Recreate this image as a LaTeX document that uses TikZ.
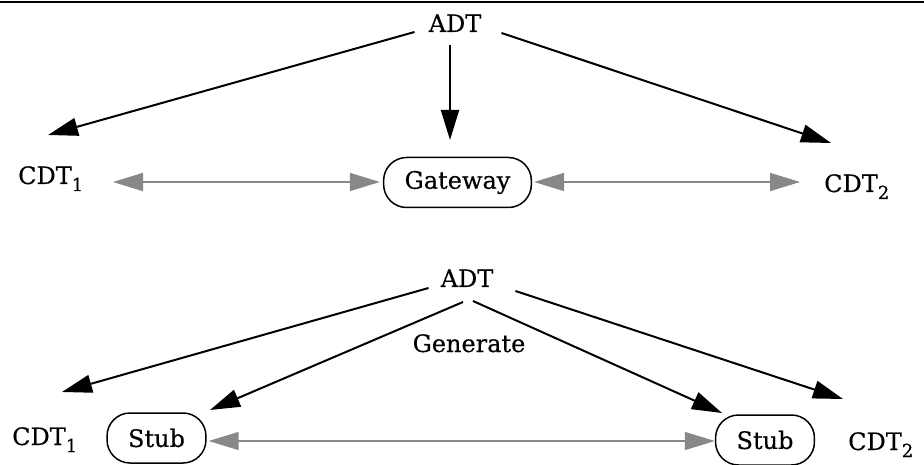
\documentclass[tikz,border=0pt]{standalone}
\usepackage{fontspec}
\setmainfont[FakeBold=0.4]{DejaVu Serif}
\usetikzlibrary{arrows.meta,calc}
\newcommand\subsc[1]{\raisebox{-7pt}{\fontsize{18}{20}\selectfont #1}}
\definecolor{arrgrey}{HTML}{888888}
\tikzset{
  txt/.style={font=\fontsize{24}{28}\selectfont, inner sep=0pt},
  pill/.style={txt, draw, line width=1.5pt, rounded corners=23pt,
    minimum height=50pt, inner xsep=21pt},
  blk/.style={line width=2pt, -{Triangle[length=30pt,width=18pt]}},
  gry/.style={draw=arrgrey, line width=1.6pt,
    {Triangle[length=30pt,width=18pt,fill=arrgrey]}-{Triangle[length=30pt,width=18pt,fill=arrgrey]}},
}
\begin{document}
\begin{tikzpicture}[x=1pt,y=-1pt]
\useasboundingbox (0,0) rectangle (924,465);
\coordinate (bl) at (0,2);
\coordinate (br) at (924,2);
\draw[line width=2pt] (bl) -- (br);

% ---------- top part ----------
\node[txt, anchor=base] (adt1) at (455,32) {ADT};
\node[txt, anchor=base west] (cdtA) at (18,184) {CDT\subsc{1}};
\node[txt, anchor=base west] (cdtB) at (824,192) {CDT\subsc{2}};
\node[pill] (gw) at (457.5,182.5) {Gateway};

\coordinate (tL1) at (48,135);
\coordinate (tM1) at (450,140);
\coordinate (tR1) at (831,143);
\draw[blk] ([xshift=-14pt]adt1.base west) -- (tL1);
\draw[blk] ([xshift=-5pt,yshift=-13pt]adt1.base) -- (tM1);
\draw[blk] ([xshift=20pt,yshift=-1pt]adt1.base east) -- (tR1);

\coordinate (gA) at (113,182);
\coordinate (gB) at (800,182);
\draw[gry] (gA) -- ([xshift=-3pt]gw.west |- gA);
\draw[gry] ([xshift=2pt]gw.east |- gB) -- (gB);

% ---------- bottom part ----------
\node[txt, anchor=base] (adt2) at (467,287) {ADT};
\node[txt, anchor=base] (gen) at (469,352) {Generate};
\node[txt, anchor=base west] (cdtC) at (12,445) {CDT\subsc{1}};
\node[txt, anchor=base west] (cdtD) at (848,450) {CDT\subsc{2}};
\node[pill] (stubA) at (156.5,438) {Stub};
\node[pill] (stubB) at (765,440) {Stub};

\coordinate (tL2) at (62,392);
\coordinate (tS1) at (210,410);
\coordinate (tS2) at (722,413);
\coordinate (tR2) at (843,399);
\draw[blk] ([xshift=-12pt,yshift=-1pt]adt2.base west) -- (tL2);
\draw[blk] ([xshift=-4pt,yshift=-15pt]adt2.base) -- (tS1);
\draw[blk] ([xshift=6pt,yshift=-14pt]adt2.base) -- (tS2);
\draw[blk] ([xshift=22pt,yshift=-4pt]adt2.base east) -- (tR2);

\draw[gry] ($(stubA.east)+(2,3)$) -- ($(stubB.west)+(0,1)$);
\end{tikzpicture}
\end{document}
